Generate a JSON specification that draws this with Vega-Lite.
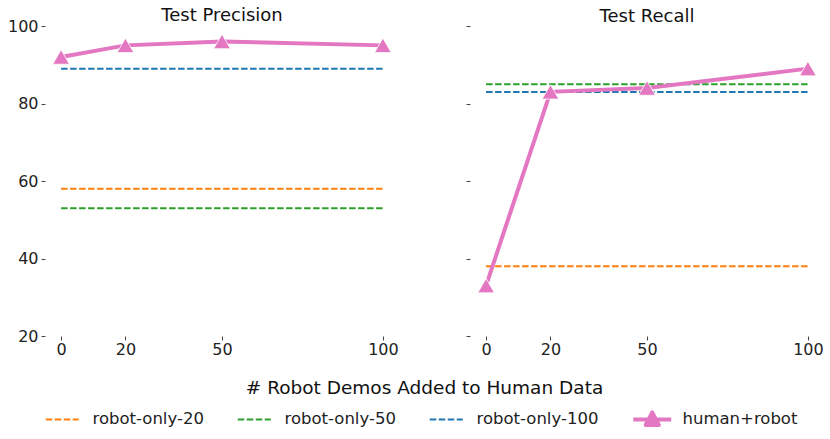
{
  "$schema": "https://vega.github.io/schema/vega-lite/v6.json",
  "autosize": {"type": "pad"},
  "padding": {"left": 7, "top": 7, "right": 6, "bottom": 5},
  "background": "white",
  "config": {
    "view": {"stroke": null},
    "font": "DejaVu Sans",
    "axis": {
      "grid": false,
      "domain": false,
      "tickColor": "#444",
      "tickSize": 4,
      "tickWidth": 1,
      "labelFontSize": 16,
      "labelColor": "#222",
      "labelPadding": 3
    },
    "title": {"fontSize": 18, "fontWeight": "normal", "color": "#111", "frame": "group", "baseline": "alphabetic"}
  },
  "datasets": {
    "scores": [
      {"panel": "precision", "series": "robot-only-20", "y": 58},
      {"panel": "precision", "series": "robot-only-50", "y": 53},
      {"panel": "precision", "series": "robot-only-100", "y": 89},
      {"panel": "precision", "series": "human+robot", "x": 0, "y": 92},
      {"panel": "precision", "series": "human+robot", "x": 20, "y": 95},
      {"panel": "precision", "series": "human+robot", "x": 50, "y": 96},
      {"panel": "precision", "series": "human+robot", "x": 100, "y": 95},
      {"panel": "recall", "series": "robot-only-20", "y": 38},
      {"panel": "recall", "series": "robot-only-50", "y": 85},
      {"panel": "recall", "series": "robot-only-100", "y": 83},
      {"panel": "recall", "series": "human+robot", "x": 0, "y": 33},
      {"panel": "recall", "series": "human+robot", "x": 20, "y": 83},
      {"panel": "recall", "series": "human+robot", "x": 50, "y": 84},
      {"panel": "recall", "series": "human+robot", "x": 100, "y": 89}
    ]
  },
  "data": {"name": "scores"},
  "bounds": "flush",
  "spacing": 71,
  "hconcat": [
    {
      "title": {"text": "Test Precision", "offset": -7},
      "width": 354,
      "height": 310,
      "transform": [{"filter": "datum.panel === 'precision'"}],
      "encoding": {
        "y": {
          "field": "y",
          "type": "quantitative",
          "scale": {"domain": [20, 100], "nice": false, "zero": false},
          "axis": {"values": [20, 40, 60, 80, 100], "title": null}
        }
      },
      "layer": [
        {
          "transform": [{"filter": "datum.series !== 'human+robot'"}],
          "mark": {"type": "rule", "strokeWidth": 2},
          "encoding": {
            "x": {"datum": 0, "type": "quantitative"},
            "x2": {"datum": 100},
            "color": {
              "field": "series",
              "type": "nominal",
              "scale": {
                "domain": ["robot-only-20", "robot-only-50", "robot-only-100", "human+robot"],
                "range": ["#ff7f0e", "#2ca02c", "#1f77b4", "#e377c2"]
              },
              "legend": {
                "orient": "none",
                "legendX": 9,
                "legendY": 385,
                "direction": "horizontal",
                "columns": 4,
                "title": null,
                "symbolType": "stroke",
                "symbolSize": 1089,
                "symbolStrokeWidth": 2,
                "labelFontSize": 16.5,
                "labelColor": "#222",
                "labelOffset": 22,
                "columnPadding": 32,
                "encode": {
                  "symbols": {
                    "update": {
                      "shape": {"signal": "datum.label === 'human+robot' ? 'M-1.15,0H1.15M0,-0.42L0.4,0.34L-0.4,0.34Z' : 'stroke'"},
                      "fill": {"signal": "datum.label === 'human+robot' ? '#e377c2' : 'transparent'"},
                      "strokeWidth": {"signal": "datum.label === 'human+robot' ? 4 : 2"},
                      "strokeJoin": {"value": "round"}
                    }
                  }
                }
              }
            },
            "strokeDash": {
              "field": "series",
              "type": "nominal",
              "scale": {
                "domain": ["robot-only-20", "robot-only-50", "robot-only-100", "human+robot"],
                "range": [[6.5, 2.5], [6.5, 2.5], [6.5, 2.5], [1, 0]]
              }
            }
          }
        },
        {
          "transform": [{"filter": "datum.series === 'human+robot'"}],
          "mark": {"type": "line", "color": "#e377c2", "strokeWidth": 4},
          "encoding": {
            "x": {
              "field": "x",
              "type": "quantitative",
              "scale": {"domain": [-5, 105], "nice": false, "zero": false},
              "axis": {
                "values": [0, 20, 50, 100],
                "labelPadding": 1,
                "title": "# Robot Demos Added to Human Data",
                "titleFontSize": 18.5,
                "titleFontWeight": "normal",
                "titleColor": "#111",
                "titleX": 379,
                "titleY": 51,
                "titleBaseline": "middle"
              }
            }
          }
        },
        {
          "transform": [{"filter": "datum.series === 'human+robot'"}],
          "mark": {"type": "point", "shape": "triangle-up", "filled": true, "size": 280, "color": "#e377c2", "opacity": 1, "stroke": "white", "strokeWidth": 0.8},
          "encoding": {"x": {"field": "x", "type": "quantitative"}}
        }
      ]
    },
    {
      "title": {"text": "Test Recall", "offset": 0},
      "width": 354,
      "height": 310,
      "transform": [{"filter": "datum.panel === 'recall'"}],
      "encoding": {
        "y": {
          "field": "y",
          "type": "quantitative",
          "scale": {"domain": [20, 100], "nice": false, "zero": false},
          "axis": {"values": [20, 40, 60, 80, 100], "labels": false, "title": null}
        }
      },
      "layer": [
        {
          "transform": [{"filter": "datum.series !== 'human+robot'"}],
          "mark": {"type": "rule", "strokeWidth": 2},
          "encoding": {
            "x": {"datum": 0, "type": "quantitative"},
            "x2": {"datum": 100},
            "color": {"field": "series", "type": "nominal"},
            "strokeDash": {"field": "series", "type": "nominal"}
          }
        },
        {
          "transform": [{"filter": "datum.series === 'human+robot'"}],
          "mark": {"type": "line", "color": "#e377c2", "strokeWidth": 4},
          "encoding": {
            "x": {
              "field": "x",
              "type": "quantitative",
              "scale": {"domain": [-5, 105], "nice": false, "zero": false},
              "axis": {"values": [0, 20, 50, 100], "labelPadding": 1, "title": null}
            }
          }
        },
        {
          "transform": [{"filter": "datum.series === 'human+robot'"}],
          "mark": {"type": "point", "shape": "triangle-up", "filled": true, "size": 280, "color": "#e377c2", "opacity": 1, "stroke": "white", "strokeWidth": 0.8},
          "encoding": {"x": {"field": "x", "type": "quantitative"}}
        }
      ]
    }
  ]
}
